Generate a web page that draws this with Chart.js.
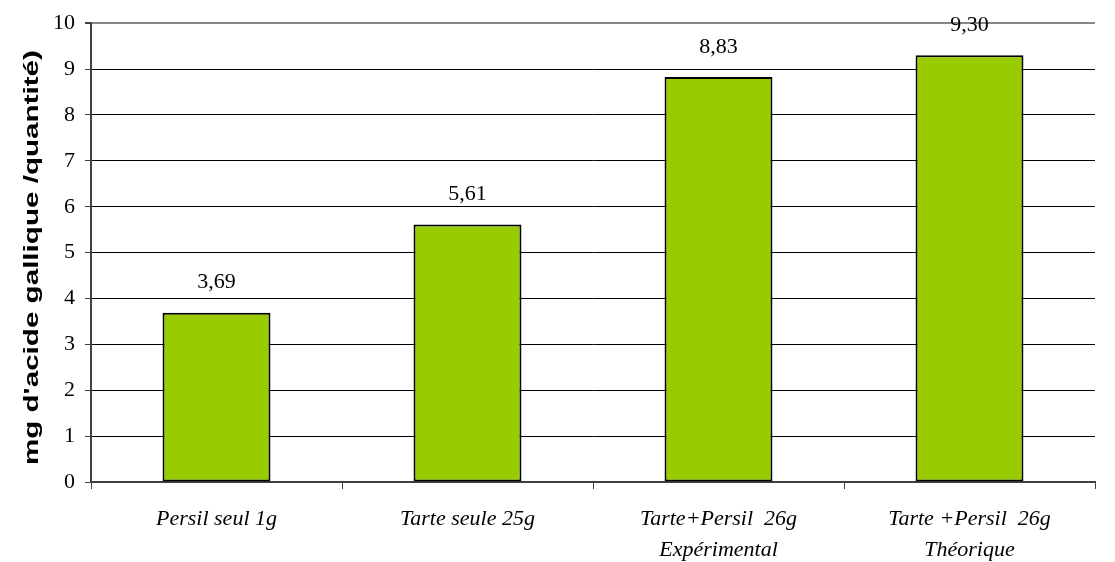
<!DOCTYPE html>
<html>
<head>
<meta charset="utf-8">
<script src="https://cdn.jsdelivr.net/npm/chart.js@4"></script>
<style>
html,body{margin:0;padding:0;background:#fff;}
#c{display:block;}
</style>
</head>
<body>
<canvas id="c" width="1115" height="562"></canvas>
<script>
const categories = [
  ["Persil seul 1g"],
  ["Tarte seule 25g"],
  ["Tarte+Persil  26g", "Expérimental"],
  ["Tarte +Persil  26g", "Théorique"]
];
const values = [3.69, 5.61, 8.83, 9.30];
const yTicks = [0,1,2,3,4,5,6,7,8,9,10];
const yTitle = "mg d'acide gallique /quantité)";

const SERIF = '"Liberation Serif", "Times New Roman", serif';

const extras = {
  id: 'extras',
  afterDatasetsDraw(chart) {
    const ctx = chart.ctx;
    const meta = chart.getDatasetMeta(0);
    ctx.save();
    ctx.font = '22px ' + SERIF;
    ctx.fillStyle = '#000';
    ctx.textAlign = 'center';
    ctx.textBaseline = 'middle';
    meta.data.forEach((bar, i) => {
      ctx.fillText(values[i].toFixed(2).replace('.', ','), bar.x, bar.y - 30);
    });
    ctx.restore();

    // y-axis title (wide, stretched glyphs as in the reference)
    const area = chart.chartArea;
    ctx.save();
    ctx.translate(32, (area.top + area.bottom) / 2 + 5);
    ctx.rotate(-Math.PI / 2);
    ctx.font = 'bold 20px "Liberation Sans", Arial, sans-serif';
    const w = ctx.measureText(yTitle).width;
    const target = 415;
    ctx.scale(target / w, 1);
    ctx.fillStyle = '#000';
    ctx.textAlign = 'center';
    ctx.textBaseline = 'middle';
    ctx.fillText(yTitle, 0, 0);
    ctx.restore();
  }
};

new Chart(document.getElementById('c'), {
  type: 'bar',
  data: {
    labels: categories,
    datasets: [{
      data: values,
      backgroundColor: '#99cc00',
      borderColor: '#000',
      borderWidth: 2,
      borderSkipped: false,
      categoryPercentage: 1,
      barPercentage: 0.43
    }]
  },
  options: {
    responsive: false,
    animation: false,
    layout: { padding: { top: 23, right: 20, bottom: 0, left: 0 } },
    plugins: { legend: { display: false }, tooltip: { enabled: false } },
    scales: {
      x: {
        afterFit(scale) { scale.height = 80; },
        border: { display: true, color: '#404040', width: 2 },
        grid: { offset: true, drawOnChartArea: false, drawTicks: true, tickLength: 7, color: '#404040', lineWidth: 1 },
        ticks: {
          color: '#000',
          padding: 15,
          font: { family: SERIF, size: 22, style: 'italic', lineHeight: 1.41 },
          maxRotation: 0, autoSkip: false
        }
      },
      y: {
        min: 0, max: 10,
        afterFit(scale) { scale.width = 91; },
        afterBuildTicks(scale) { scale.ticks = yTicks.map(v => ({ value: v })); },
        border: { display: true, color: '#404040', width: 2 },
        grid: {
          color: ctx => (ctx.tick && ctx.tick.value === 10) ? '#888888' : '#000000',
          lineWidth: ctx => (ctx.tick && ctx.tick.value === 10) ? 2 : 1,
          tickColor: '#404040',
          tickLength: 6
        },
        ticks: {
          color: '#000',
          padding: 10,
          font: { family: SERIF, size: 22 },
          callback: v => String(v)
        }
      }
    }
  },
  plugins: [extras]
});
</script>
</body>
</html>
